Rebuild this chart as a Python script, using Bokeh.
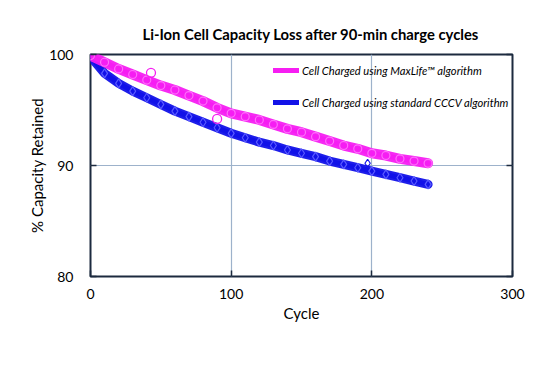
from bokeh.plotting import figure
from bokeh.models import FixedTicker, LinearAxis, Legend, LegendItem, Range1d
from bokeh.embed import file_html
from bokeh.resources import INLINE

title_text = "Li-Ion Cell Capacity Loss after 90-min charge cycles"
x_label = "Cycle"
y_label = "% Capacity Retained"
x_ticks = [0, 100, 200, 300]
y_ticks = [80, 90, 100]

cycles = [0, 10, 20, 30, 40, 50, 60, 70, 80, 90, 100, 110, 120,
          130, 140, 150, 160, 170, 180, 190, 200, 210, 220, 230, 240]
maxlife = [99.9, 99.3, 98.7, 98.2, 97.7, 97.2, 96.8, 96.3, 95.8, 95.2, 94.7, 94.4, 94.1,
           93.7, 93.3, 93.0, 92.6, 92.2, 91.8, 91.5, 91.1, 90.9, 90.6, 90.4, 90.2]
cccv = [99.8, 98.3, 97.4, 96.7, 96.1, 95.5, 94.9, 94.4, 93.9, 93.4, 92.9, 92.5, 92.1,
        91.8, 91.4, 91.1, 90.8, 90.4, 90.1, 89.8, 89.5, 89.2, 88.9, 88.6, 88.3]
maxlife_outlier_x = [43, 90]
maxlife_outlier_y = [98.35, 94.2]
cccv_outlier_x = [197]
cccv_outlier_y = [90.2]

label_maxlife = "Cell Charged using MaxLife\u2122 algorithm"
label_cccv = "Cell Charged using standard CCCV algorithm"

MAGENTA = "#f61ef2"
BLUE = "#1212e8"
FRAME = "#1c2a3f"
GRID = "#9db2cb"
FONT = "Lato"

p = figure(width=534, height=353, output_backend="svg", toolbar_location=None,
           x_range=Range1d(0, 300), y_range=Range1d(80, 100),
           min_border_left=90, min_border_right=22, min_border_top=54, min_border_bottom=77)
p.background_fill_color = "white"
p.border_fill_color = "white"
p.outline_line_color = FRAME
p.outline_line_width = 2

p.title.text = title_text
p.title.text_font = FONT
p.title.text_font_size = "14.8px"
p.title.text_font_style = "bold"
p.title.text_color = "black"
p.title.align = "left"
p.title.offset = 52
p.title.standoff = 23

for ax in p.xaxis:
    ax.ticker = FixedTicker(ticks=x_ticks)
    ax.axis_label = x_label
for ax in p.yaxis:
    ax.ticker = FixedTicker(ticks=y_ticks)
    ax.axis_label = y_label

right = LinearAxis(ticker=FixedTicker(ticks=y_ticks))
p.add_layout(right, "right")

for ax in p.axis:
    ax.axis_line_color = None
    ax.major_tick_in = 6
    ax.major_tick_out = 0
    ax.major_tick_line_color = FRAME
    ax.major_tick_line_width = 1.5
    ax.minor_tick_line_color = None
    ax.major_label_text_font = FONT
    ax.major_label_text_font_size = "14px"
    ax.major_label_text_color = "black"
    ax.axis_label_text_font = FONT
    ax.axis_label_text_font_size = "15px"
    ax.axis_label_text_font_style = "normal"
    ax.axis_label_text_color = "black"
right.major_label_text_alpha = 0
right.major_label_text_font_size = "1px"

p.xaxis[0].major_label_standoff = 12
p.xaxis[0].axis_label_standoff = 2
p.yaxis[0].major_label_standoff = 17
p.yaxis[0].axis_label_standoff = 0

p.xgrid.ticker = FixedTicker(ticks=[100, 200])
p.ygrid.ticker = FixedTicker(ticks=[90])
p.grid.grid_line_color = GRID
p.grid.grid_line_width = 1.2

# blue band
lb = p.line(cycles, cccv, line_color=BLUE, line_width=5, line_cap="round")
p.line(cycles, cccv, line_color=BLUE, line_width=9, line_alpha=0.95, line_cap="round")
p.scatter(cycles, cccv, marker="diamond", size=9, fill_color=None,
          line_color="#5a5aff", line_width=1.2)
p.scatter(cccv_outlier_x, cccv_outlier_y, marker="diamond", size=8, fill_color=None,
          line_color=BLUE, line_width=1.2)

# magenta band
lm = p.line(cycles, maxlife, line_color=MAGENTA, line_width=5, line_cap="round")
p.line(cycles, maxlife, line_color=MAGENTA, line_width=10, line_alpha=0.95, line_cap="round")
p.scatter(cycles, maxlife, marker="circle", size=8, fill_color=None,
          line_color="#ff6dfb", line_width=1.2)
p.scatter(maxlife_outlier_x, maxlife_outlier_y, marker="circle", size=9, fill_color=None,
          line_color=MAGENTA, line_width=1.3)

legend = Legend(items=[LegendItem(label=label_maxlife, renderers=[lm]),
                       LegendItem(label=label_cccv, renderers=[lb])],
                location=(183, 164), padding=0, margin=0, spacing=12,
                glyph_width=26, glyph_height=20, label_height=20,
                label_standoff=3,
                label_text_font=FONT, label_text_font_size="11.2px",
                label_text_font_style="italic", label_text_color="black",
                background_fill_alpha=0, border_line_alpha=0)
p.add_layout(legend, "center")

open("out.html", "w").write(file_html(p, INLINE))
